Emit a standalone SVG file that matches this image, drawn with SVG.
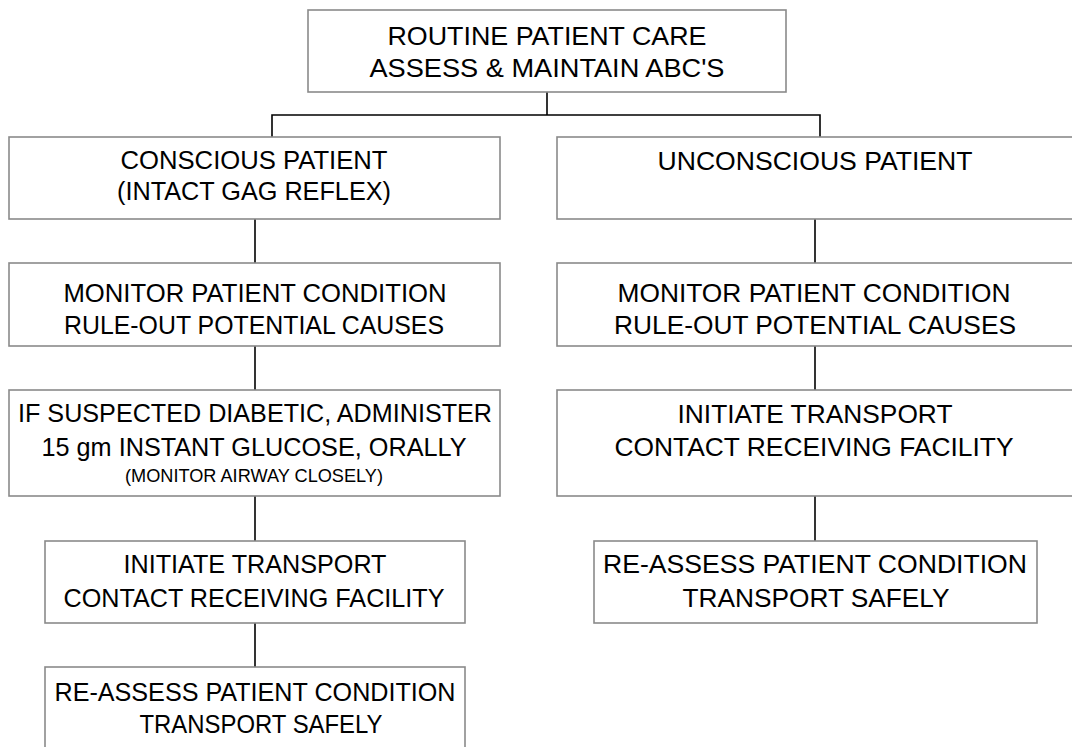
<svg xmlns="http://www.w3.org/2000/svg" width="1072" height="747" viewBox="0 0 1072 747">
  <style>
    .box { fill: #ffffff; stroke: #8a8a8a; stroke-width: 1.6; }
    .lbl { font-family: "Liberation Sans", Arial, sans-serif; font-size: 26.5px; fill: #000000; text-anchor: middle; }
    .small { font-size: 18px; }
    .wire { fill: none; stroke: #000000; stroke-width: 1.6; }
  </style>
  <rect width="1072" height="747" fill="#ffffff"/>

  <!-- connectors -->
  <g id="connectors">
    <line class="wire" x1="547" y1="92" x2="547" y2="115"/>
    <polyline class="wire" points="272,137 272,115 820,115 820,137"/>
    <line class="wire" x1="255" y1="219" x2="255" y2="263"/>
    <line class="wire" x1="255" y1="346" x2="255" y2="390"/>
    <line class="wire" x1="255" y1="496" x2="255" y2="541"/>
    <line class="wire" x1="255" y1="623" x2="255" y2="667"/>
    <line class="wire" x1="815" y1="219" x2="815" y2="263"/>
    <line class="wire" x1="815" y1="346" x2="815" y2="390"/>
    <line class="wire" x1="815" y1="496" x2="815" y2="541"/>
  </g>

  <!-- root -->
  <g id="routine-care">
    <rect class="box" x="308" y="10" width="478" height="82"/>
    <text class="lbl" x="547" y="45" textLength="319" lengthAdjust="spacingAndGlyphs">ROUTINE PATIENT CARE</text>
    <text class="lbl" x="547" y="77" textLength="355" lengthAdjust="spacingAndGlyphs">ASSESS &amp; MAINTAIN ABC'S</text>
  </g>

  <!-- left column -->
  <g id="conscious">
    <rect class="box" x="9" y="137" width="491" height="82"/>
    <text class="lbl" x="254" y="169" textLength="267" lengthAdjust="spacingAndGlyphs">CONSCIOUS PATIENT</text>
    <text class="lbl" x="254" y="200" textLength="274" lengthAdjust="spacingAndGlyphs">(INTACT GAG REFLEX)</text>
  </g>
  <g id="monitor-left">
    <rect class="box" x="9" y="263" width="491" height="83"/>
    <text class="lbl" x="255" y="302" textLength="383" lengthAdjust="spacingAndGlyphs">MONITOR PATIENT CONDITION</text>
    <text class="lbl" x="254" y="334" textLength="380" lengthAdjust="spacingAndGlyphs">RULE-OUT POTENTIAL CAUSES</text>
  </g>
  <g id="glucose">
    <rect class="box" x="9" y="390" width="491" height="106"/>
    <text class="lbl" x="255" y="422" textLength="474" lengthAdjust="spacingAndGlyphs">IF SUSPECTED DIABETIC, ADMINISTER</text>
    <text class="lbl" x="254" y="456" textLength="425" lengthAdjust="spacingAndGlyphs">15 gm INSTANT GLUCOSE, ORALLY</text>
    <text class="lbl small" x="254" y="482" textLength="258" lengthAdjust="spacingAndGlyphs">(MONITOR AIRWAY CLOSELY)</text>
  </g>
  <g id="transport-left">
    <rect class="box" x="45" y="541" width="420" height="82"/>
    <text class="lbl" x="255" y="573" textLength="263" lengthAdjust="spacingAndGlyphs">INITIATE TRANSPORT</text>
    <text class="lbl" x="254" y="607" textLength="381" lengthAdjust="spacingAndGlyphs">CONTACT RECEIVING FACILITY</text>
  </g>
  <g id="reassess-left">
    <rect class="box" x="45" y="667" width="420" height="90"/>
    <text class="lbl" x="255" y="701" textLength="401" lengthAdjust="spacingAndGlyphs">RE-ASSESS PATIENT CONDITION</text>
    <text class="lbl" x="261" y="733" textLength="243" lengthAdjust="spacingAndGlyphs">TRANSPORT SAFELY</text>
  </g>

  <!-- right column -->
  <g id="unconscious">
    <rect class="box" x="557" y="137" width="525" height="82"/>
    <text class="lbl" x="815" y="170" textLength="315" lengthAdjust="spacingAndGlyphs">UNCONSCIOUS PATIENT</text>
  </g>
  <g id="monitor-right">
    <rect class="box" x="557" y="263" width="525" height="83"/>
    <text class="lbl" x="814" y="302" textLength="393" lengthAdjust="spacingAndGlyphs">MONITOR PATIENT CONDITION</text>
    <text class="lbl" x="815" y="334" textLength="402" lengthAdjust="spacingAndGlyphs">RULE-OUT POTENTIAL CAUSES</text>
  </g>
  <g id="transport-right">
    <rect class="box" x="557" y="390" width="525" height="106"/>
    <text class="lbl" x="815" y="423" textLength="275" lengthAdjust="spacingAndGlyphs">INITIATE TRANSPORT</text>
    <text class="lbl" x="814" y="456" textLength="399" lengthAdjust="spacingAndGlyphs">CONTACT RECEIVING FACILITY</text>
  </g>
  <g id="reassess-right">
    <rect class="box" x="594" y="541" width="443" height="82"/>
    <text class="lbl" x="815" y="573" textLength="424" lengthAdjust="spacingAndGlyphs">RE-ASSESS PATIENT CONDITION</text>
    <text class="lbl" x="816" y="607" textLength="267" lengthAdjust="spacingAndGlyphs">TRANSPORT SAFELY</text>
  </g>
</svg>
